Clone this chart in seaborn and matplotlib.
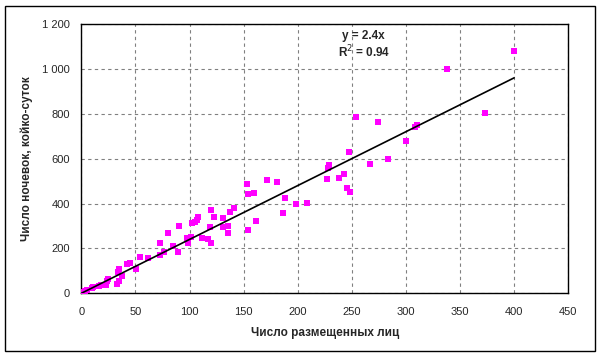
import matplotlib
matplotlib.use("Agg")
import matplotlib.pyplot as plt
import matplotlib.patches as mpatches
import seaborn as sns
import pandas as pd
from matplotlib.ticker import FuncFormatter

persons = [0, 1, 3, 5, 10, 11, 16, 18, 23, 24, 25, 33, 35, 38, 34, 35, 42, 45, 51, 54,
           62, 73, 73, 76, 80, 85, 89, 90, 98, 99, 101, 102, 105, 107, 108, 112, 117, 120,
           119, 120, 123, 131, 131, 136, 136, 137, 141, 153, 154, 154, 160, 161, 172, 181,
           186, 188, 198, 209, 227, 228, 229, 238, 243, 246, 248, 247, 254, 267, 274, 283,
           300, 308, 310, 338, 373, 400]
nights = [3, 7, 12, 15, 22, 27, 33, 37, 37, 56, 62, 42, 56, 77, 97, 107, 131, 134, 108, 163,
          156, 225, 171, 185, 267, 211, 185, 300, 245, 226, 249, 312, 319, 326, 338, 245, 240, 225,
          297, 371, 341, 334, 297, 300, 267, 363, 379, 487, 441, 284, 447, 324, 504, 496,
          356, 425, 400, 404, 508, 560, 570, 516, 533, 471, 451, 628, 785, 578, 763, 600,
          679, 739, 748, 998, 803, 1078]
slope = 2.4
r2 = 0.94
trend_x = [0, 400]
x_ticks = [0, 50, 100, 150, 200, 250, 300, 350, 400, 450]
y_ticks = [0, 200, 400, 600, 800, 1000, 1200]

df = pd.DataFrame({"x": persons, "y": nights})
trend = pd.DataFrame({"x": trend_x, "y": [slope * v for v in trend_x]})

sns.set_style("white")
plt.rcParams['font.family'] = ['Liberation Sans', 'DejaVu Sans']

fig = plt.figure(figsize=(6.0, 3.56), dpi=100)
ax = fig.add_axes([0.1355, 0.1761, 0.9470 - 0.1355, 0.9326 - 0.1761])

# outer chart border
fig.patches.append(mpatches.Rectangle((5 / 600, 5 / 356), 590 / 600, 345 / 356,
                                      transform=fig.transFigure, fill=False,
                                      edgecolor='black', linewidth=1.0))

sns.scatterplot(data=df, x="x", y="y", ax=ax, marker='s', s=22, color='#FF00FF',
                linewidth=0, zorder=3)
sns.lineplot(data=trend, x="x", y="y", ax=ax, color='black', linewidth=1.2, zorder=4)

ax.set_xlim(0, 450)
ax.set_ylim(0, 1200)
ax.set_xticks(x_ticks)
ax.set_yticks(y_ticks)
ax.yaxis.set_major_formatter(FuncFormatter(lambda v, p: f"{int(v):,}".replace(",", " ")))
ax.grid(True, color='#808080', linestyle=(0, (3, 3)), linewidth=0.8)
ax.set_axisbelow(True)
for sp in ax.spines.values():
    sp.set_color('black')
    sp.set_linewidth(1.0)
ax.tick_params(axis='both', direction='out', length=4, width=1, color='black',
               labelsize=8, pad=4)
ax.tick_params(axis='x', pad=6)

ax.set_xlabel("Число размещенных лиц", fontsize=8.5, fontweight='bold', labelpad=7)
ax.set_ylabel("Число ночевок, койко-суток", fontsize=8.5, fontweight='bold', labelpad=7)

ax.text(261, 1146, f"y = {slope}x", ha='center', va='center', fontsize=8.5, fontweight='bold')
ax.text(261, 1073, f"R$^2$ = {r2}", ha='center', va='center', fontsize=8.5, fontweight='bold')

fig.savefig("out.png", dpi=100)
